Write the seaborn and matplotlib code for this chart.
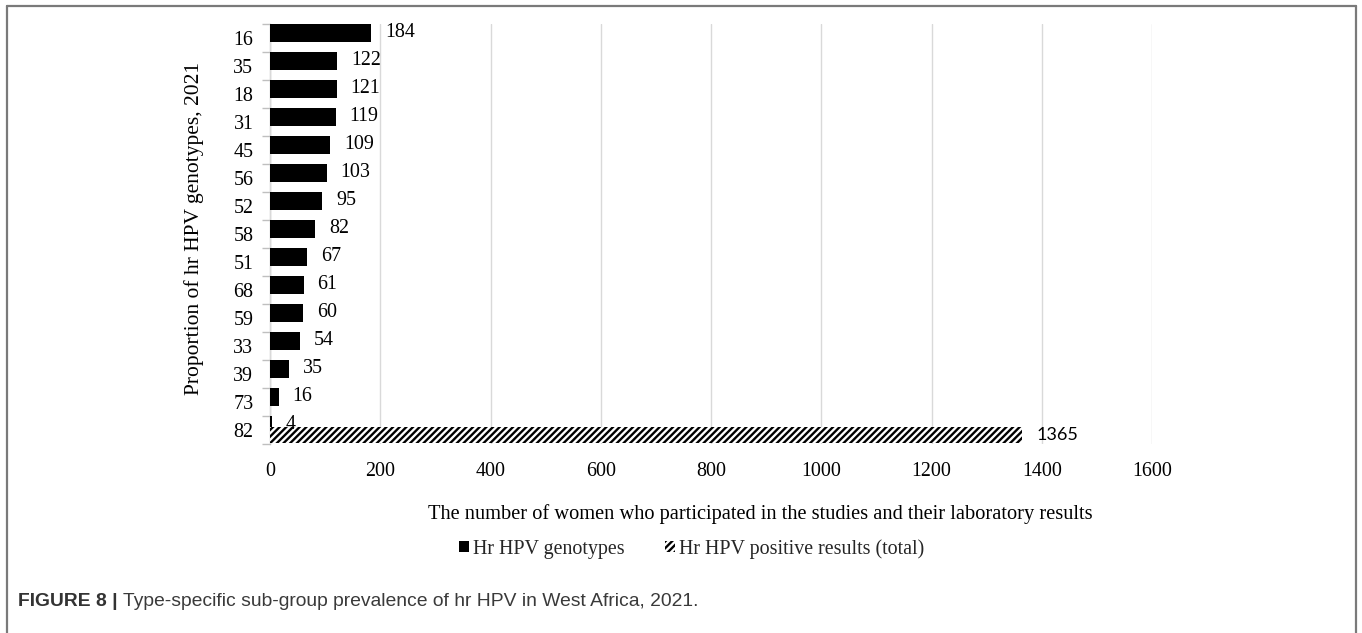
import matplotlib
matplotlib.use("Agg")
import matplotlib.pyplot as plt
from matplotlib.patches import Patch
from matplotlib.lines import Line2D
import pandas as pd
import seaborn as sns

# hr HPV genotypes and the number of positive results for each
genotypes = ["16", "35", "18", "31", "45", "56", "52", "58", "51", "68",
             "59", "33", "39", "73", "82"]
genotype_counts = [184, 122, 121, 119, 109, 103, 95, 82, 67, 61, 60, 54, 35, 16, 4]

# total hr HPV positive results, shown in the last row
total_genotype = ["82"]
total_positive = [1365]

x_ticks = [0, 200, 400, 600, 800, 1000, 1200, 1400, 1600]

series_names = ["Hr HPV genotypes", "Hr HPV positive results (total)"]
x_title = "The number of women who participated in the studies and their laboratory results"
y_title = "Proportion of hr HPV genotypes, 2021"

sns.set_theme(style="white")
plt.rcParams["font.family"] = ["Liberation Serif", "DejaVu Serif"]
plt.rcParams["hatch.linewidth"] = 1.7
plt.rcParams["hatch.color"] = "black"

FS = 14.4

W, H = 1362, 633
fig = plt.figure(figsize=(W / 100, H / 100), dpi=100)
fig.patch.set_facecolor("white")
ax = fig.add_axes([270 / W, 1 - 444 / H, 882 / W, 420 / H])

geno_df = pd.DataFrame({"genotype": genotypes, "count": genotype_counts})
total_df = pd.DataFrame({"genotype": total_genotype, "count": total_positive})

# genotype bars: upper slot of each category row
sns.barplot(data=geno_df, x="count", y="genotype", order=genotypes, orient="h",
            color="black", saturation=1, width=0.64, ax=ax)
geno_bars = ax.containers[0]
for p in geno_bars:
    p.set_y(p.get_y() - 0.18)
    p.set_linewidth(0)

# total bar: lower slot, hatched
sns.barplot(data=total_df, x="count", y="genotype", order=genotypes, orient="h",
            color="white", saturation=1, width=0.57, ax=ax)
total_bars = ax.containers[1]
for p in total_bars:
    p.set_y(p.get_y() + 0.18)
    p.set_facecolor("white")
    p.set_edgecolor("black")
    p.set_hatch("/////")
    p.set_linewidth(0)

ax.bar_label(geno_bars, labels=[str(v) for v in genotype_counts], padding=10,
             fontsize=FS, color="black")
ax.bar_label(total_bars, labels=[str(v) for v in total_positive], padding=10,
             fontsize=13, color="black", family=["Lato", "DejaVu Sans"])

ax.set_xlim(0, 1600)
ax.set_ylim(len(genotypes) - 0.5, -0.5)
ax.set_xticks(x_ticks)
ax.set_xticklabels([str(t) for t in x_ticks], fontsize=FS)
ax.set_yticks(range(len(genotypes)))
ax.set_yticklabels(genotypes, fontsize=FS)
ax.set_yticks([i - 0.5 for i in range(len(genotypes) + 1)], minor=True)
ax.tick_params(axis="y", which="major", length=0, pad=12, labelcolor="black")
ax.tick_params(axis="y", which="minor", length=6, width=1, color="#bfbfbf", left=True)
ax.tick_params(axis="x", which="major", length=0, pad=13, labelcolor="black")

ax.grid(axis="x", color="#d9d9d9", linewidth=1)
ax.grid(axis="y", visible=False)
ax.set_axisbelow(True)
for side in ["top", "right", "bottom"]:
    ax.spines[side].set_visible(False)
ax.spines["left"].set_color("#bfbfbf")
ax.spines["left"].set_linewidth(1)
ax.spines["left"].set_zorder(0.5)

ax.set_xlabel(x_title, fontsize=14.7, color="black")
ax.xaxis.set_label_coords((760 - 270) / 882, -(504 - 444) / 420)
ax.set_ylabel(y_title, fontsize=15.5, color="black")
ax.yaxis.set_label_coords((204 - 270) / 882, (444 - 228) / 420)

handles = [Patch(facecolor="black", edgecolor="black", linewidth=0),
           Patch(facecolor="white", edgecolor="black", hatch="/////", linewidth=0)]
fig.legend(handles, series_names, loc="center left",
           bbox_to_anchor=(459 / W, 1 - 549 / H), borderaxespad=0, borderpad=0,
           ncol=2, frameon=False, fontsize=FS, handlelength=0.5, handleheight=0.5,
           handletextpad=0.2, columnspacing=2.0)

# caption
cap_font = ["Liberation Sans", "DejaVu Sans"]
t1 = fig.text(18 / W, 1 - 602 / H, "FIGURE 8 |", fontsize=13.9, fontweight="bold",
              color="#333333", va="center", ha="left", family=cap_font)
fig.canvas.draw()
bb = t1.get_window_extent()
fig.text((bb.x1 + 5) / W, 1 - 602 / H,
         "Type-specific sub-group prevalence of hr HPV in West Africa, 2021.",
         fontsize=13.9, color="#3a3a3a", va="center", ha="left", family=cap_font)

# outer frame
frame = dict(color="#7a7a7a", linewidth=1.6, transform=fig.transFigure)
fig.add_artist(Line2D([7 / W, 1356 / W], [1 - 6 / H, 1 - 6 / H], **frame))
fig.add_artist(Line2D([7 / W, 7 / W], [1 - 6 / H, 0], **frame))
fig.add_artist(Line2D([1356 / W, 1356 / W], [1 - 6 / H, 0], **frame))

fig.savefig("out.png", dpi=100, facecolor="white")
